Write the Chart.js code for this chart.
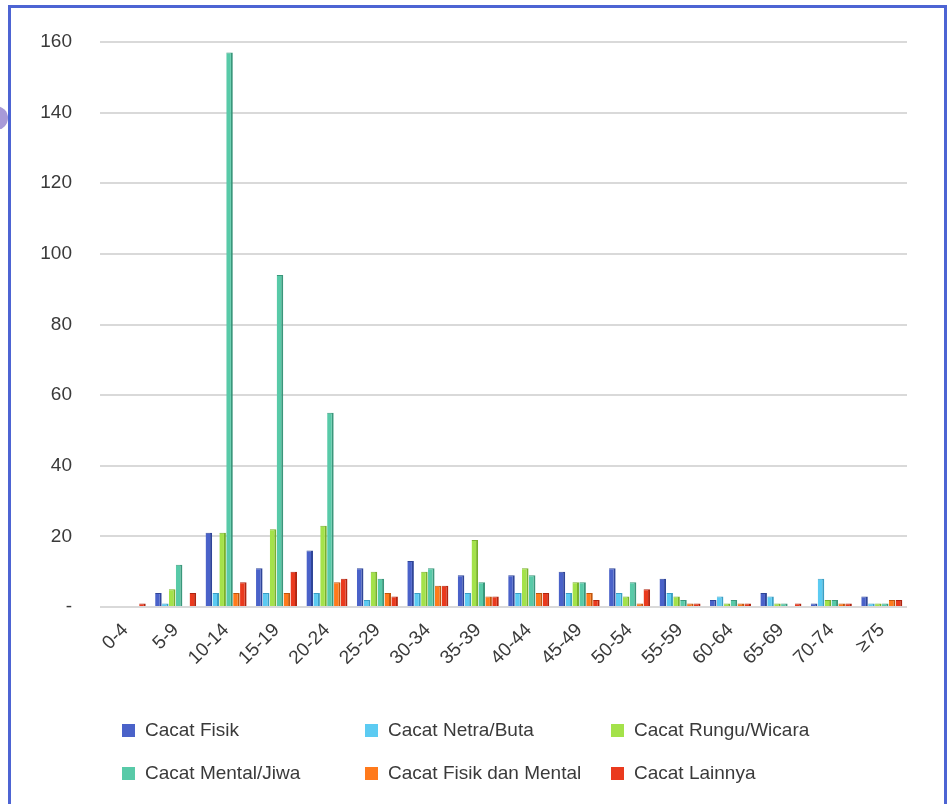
<!DOCTYPE html>
<html>
<head>
<meta charset="utf-8">
<script src="https://cdn.jsdelivr.net/npm/chart.js@4.4.1/dist/chart.umd.min.js"></script>
<style>
    body { margin: 0; background: #fff; font-family: "Liberation Sans", Arial, sans-serif; }
    #wrap { position: relative; width: 949px; height: 804px; overflow: hidden; }
    #frame { position: absolute; left: 8px; top: 5px; width: 933px; height: 820px; border: 3px solid #4d64d3; }
    #dot { position: absolute; left: -16px; top: 106px; width: 24px; height: 24px; border-radius: 50%; background: #a89ad8; }
    #chart-box { position: absolute; left: 0; top: 0; width: 949px; height: 690px; }
    #legend { position: absolute; left: 0; top: 0; width: 949px; height: 804px; pointer-events: none; }
    .legend-item { position: absolute; display: flex; align-items: center; font-size: 19px; color: #3a3a3a; white-space: nowrap; }
    .legend-item span.box { width: 13px; height: 13px; margin-right: 10px; }
</style>
</head>
<body>
<div id="wrap">
    <div id="frame"></div>
    <div id="dot"></div>
    <div id="chart-box"><canvas id="chart"></canvas></div>
    <div id="legend"></div>
</div>
<script>
const ageGroups = ['0-4', '5-9', '10-14', '15-19', '20-24', '25-29', '30-34', '35-39', '40-44', '45-49', '50-54', '55-59', '60-64', '65-69', '70-74', '≥75'];

const cacatFisik       = [0, 4, 21, 11, 16, 11, 13, 9, 9, 10, 11, 8, 2, 4, 1, 3];
const cacatNetra       = [0, 1, 4, 4, 4, 2, 4, 4, 4, 4, 4, 4, 3, 3, 8, 1];
const cacatRungu       = [0, 5, 21, 22, 23, 10, 10, 19, 11, 7, 3, 3, 1, 1, 2, 1];
const cacatMental      = [0, 12, 157, 94, 55, 8, 11, 7, 9, 7, 7, 2, 2, 1, 2, 1];
const cacatFisikMental = [0, 0, 4, 4, 7, 4, 6, 3, 4, 4, 1, 1, 1, 0, 1, 2];
const cacatLainnya     = [1, 4, 7, 10, 8, 3, 6, 3, 4, 2, 5, 1, 1, 1, 1, 2];

const seriesNames  = ['Cacat Fisik', 'Cacat Netra/Buta', 'Cacat Rungu/Wicara', 'Cacat Mental/Jiwa', 'Cacat Fisik dan Mental', 'Cacat Lainnya'];
const seriesData   = [cacatFisik, cacatNetra, cacatRungu, cacatMental, cacatFisikMental, cacatLainnya];
const seriesColors = ['#4a62c9', '#5ccbf2', '#a4e24a', '#58caa8', '#ff7a1c', '#ea3a1e'];
const seriesEdges  = ['#2f4598', '#3a9fc4', '#78b02c', '#3a977b', '#c2560c', '#b02410'];

const yMax = 160;
const yStep = 20;

function renderChart() {
    const ctx = document.getElementById('chart').getContext('2d');
    const datasets = seriesNames.map((name, i) => ({
        label: name,
        data: seriesData[i],
        backgroundColor: seriesColors[i],
        borderColor: seriesEdges[i],
        borderWidth: { right: 2, top: 1, left: 0, bottom: 0 },
        borderSkipped: 'start',
        categoryPercentage: 0.82,
        barPercentage: 0.95
    }));

    new Chart(ctx, {
        type: 'bar',
        data: { labels: ageGroups, datasets: datasets },
        options: {
            responsive: true, maintainAspectRatio: false, animation: false,
            layout: { padding: { top: 42, right: 42, left: 0, bottom: 0 } },
            plugins: { legend: { display: false }, tooltip: { enabled: false } },
            scales: {
                x: {
                    grid: { display: false },
                    border: { display: false },
                    ticks: {
                        minRotation: 45, maxRotation: 45, padding: 4,
                        color: '#3a3a3a',
                        font: { family: 'Liberation Sans', size: 19 }
                    },
                    afterFit: (scale) => { scale.height = 83; }
                },
                y: {
                    min: 0, max: yMax,
                    grid: { color: '#d9d9d9', lineWidth: 2, drawTicks: false },
                    border: { display: false },
                    ticks: {
                        stepSize: yStep, padding: 28,
                        color: '#3a3a3a',
                        font: { family: 'Liberation Sans', size: 19 },
                        callback: (v) => v === 0 ? '-' : v
                    },
                    afterFit: (scale) => { scale.width = 100; }
                }
            }
        }
    });
}

function renderLegend() {
    // 2 rows x 3 columns, like the original picture
    const colX = [122, 365, 611];
    const rowY = [730, 773];
    const legend = document.getElementById('legend');
    seriesNames.forEach((name, i) => {
        const item = document.createElement('div');
        item.className = 'legend-item';
        item.style.left = colX[i % 3] + 'px';
        item.style.top = (rowY[Math.floor(i / 3)] - 12) + 'px';
        item.style.height = '24px';
        item.innerHTML = `<span class="box" style="background:${seriesColors[i]}"></span>${name}`;
        legend.appendChild(item);
    });
}

renderChart();
renderLegend();
</script>
</body>
</html>
